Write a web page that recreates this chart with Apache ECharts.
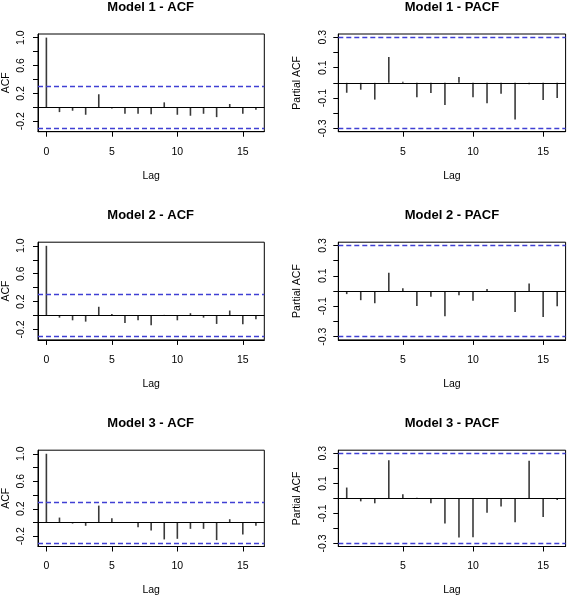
<!DOCTYPE html>
<html>
<head>
<meta charset="utf-8">
<script src="https://cdn.jsdelivr.net/npm/echarts@6/dist/echarts.min.js"></script>
<style>
html,body{margin:0;padding:0;background:#fff;}
#chart{width:567px;height:597px;}
</style>
</head>
<body>
<div id="chart"></div>
<script>
// ---- data ----
const acfLags = [0,1,2,3,4,5,6,7,8,9,10,11,12,13,14,15,16];
const pacfLags = [1,2,3,4,5,6,7,8,9,10,11,12,13,14,15,16];
const acf1 = [1, -0.068, -0.048, -0.106, 0.188, -0.015, -0.092, -0.092, -0.10, 0.072, -0.106, -0.12, -0.092, -0.14, 0.048, -0.092, -0.034];
const pacf1 = [-0.065, -0.045, -0.11, 0.17, 0.007, -0.094, -0.067, -0.145, 0.038, -0.094, -0.134, -0.072, -0.24, -0.01, -0.112, -0.10];
const acf2 = [1, -0.03, -0.068, -0.087, 0.126, 0.024, -0.106, -0.068, -0.14, 0.01, -0.068, 0.034, -0.03, -0.12, 0.072, -0.126, -0.053];
const pacf2 = [-0.02, -0.06, -0.08, 0.12, 0.018, -0.098, -0.038, -0.165, -0.027, -0.064, 0.013, -0.003, -0.138, 0.05, -0.17, -0.10];
const acf3 = [1, 0.072, -0.015, -0.048, 0.246, 0.063, 0.005, -0.068, -0.116, -0.246, -0.237, -0.092, -0.092, -0.256, 0.048, -0.174, -0.048];
const pacf3 = [0.072, -0.02, -0.033, 0.254, 0.028, 0.004, -0.033, -0.167, -0.26, -0.259, -0.096, -0.054, -0.16, 0.25, -0.124, -0.011];
const confLimit = 0.297;
const titles = ["Model 1 - ACF","Model 1 - PACF","Model 2 - ACF","Model 2 - PACF","Model 3 - ACF","Model 3 - PACF"];
const acfYTicks = [-0.2, 0, 0.2, 0.4, 0.6, 0.8, 1.0];
const acfYLabels = [-0.2, 0.2, 0.6, 1.0];
const pacfYTicks = [-0.3, -0.2, -0.1, 0, 0.1, 0.2, 0.3];
const pacfYLabels = [-0.3, -0.1, 0.1, 0.3];
const acfXTicks = [0, 5, 10, 15];
const pacfXTicks = [5, 10, 15];

// ---- layout ----
const panels = [
  {kind:'acf',  lags:acfLags,  vals:acf1},
  {kind:'pacf', lags:pacfLags, vals:pacf1},
  {kind:'acf',  lags:acfLags,  vals:acf2},
  {kind:'pacf', lags:pacfLags, vals:pacf2},
  {kind:'acf',  lags:acfLags,  vals:acf3},
  {kind:'pacf', lags:pacfLags, vals:pacf3}
];
const colLeft = [37, 338.3];
const boxW = 227.3;
const rowTop = [34, 242.2, 450.2];
const boxH = 97.7;
const FONT = "'Liberation Sans', Arial, Helvetica, sans-serif";
const FS = 10.5;

function expand(lo, hi){ const d=(hi-lo)*0.04; return [lo-d, hi+d]; }

const option = {
  animation:false,
  backgroundColor:'#fff',
  title:[], grid:[], xAxis:[], yAxis:[], series:[]
};

panels.forEach((p, i) => {
  const r = Math.floor(i/2), c = i%2;
  const isAcf = p.kind === 'acf';
  option.title.push({
    text: titles[i],
    left: colLeft[c] + boxW/2,
    top: rowTop[r] - 33,
    textAlign: 'center',
    padding: 0,
    textStyle:{fontFamily:FONT, fontSize:13, fontWeight:'bold', color:'#000'}
  });
  option.grid.push({
    left: colLeft[c], top: rowTop[r], width: boxW, height: boxH,
    show:true, borderColor:'#000', borderWidth:1, backgroundColor:'transparent'
  });
  const xr = isAcf ? expand(0,16) : expand(1,16);
  const yr = isAcf ? expand(-confLimit, 1) : expand(-confLimit, confLimit);
  option.xAxis.push({
    type:'value', gridIndex:i, min:xr[0], max:xr[1], position:'bottom',
    axisLine:{show:true, onZero:false, lineStyle:{color:'#000', width:1}},
    axisTick:{show:true, length:5, customValues: isAcf ? acfXTicks : pacfXTicks, lineStyle:{color:'#000'}},
    axisLabel:{show:true, margin:14.5, customValues: isAcf ? acfXTicks : pacfXTicks,
      fontFamily:FONT, fontSize:FS, color:'#000'},
    splitLine:{show:false},
    name:'Lag', nameLocation:'middle', nameGap:38.5,
    nameTextStyle:{fontFamily:FONT, fontSize:FS, color:'#000'}
  });
  option.yAxis.push({
    type:'value', gridIndex:i, min:yr[0], max:yr[1], position:'left',
    axisLine:{show:true, onZero:false, lineStyle:{color:'#000', width:1}},
    axisTick:{show:true, length:5, customValues: isAcf ? acfYTicks : pacfYTicks, lineStyle:{color:'#000'}},
    axisLabel:{show:true, rotate:90, margin: isAcf ? 11 : 9.5,
      customValues: isAcf ? acfYLabels : pacfYLabels,
      formatter: v => (Math.round(v*10)/10).toFixed(1),
      fontFamily:FONT, fontSize:FS, color:'#000'},
    splitLine:{show:false},
    name: isAcf ? 'ACF' : 'Partial ACF', nameLocation:'middle', nameRotate:90,
    nameGap: isAcf ? 26 : 36,
    nameTextStyle:{fontFamily:FONT, fontSize:FS, color:'#000'}
  });
  option.series.push({
    type:'bar', xAxisIndex:i, yAxisIndex:i,
    data: p.lags.map((l, k) => [l, p.vals[k]]),
    barWidth:1.6,
    itemStyle:{color:'#3a3a3a'},
    silent:true,
    markLine:{
      silent:true, symbol:'none', label:{show:false},
      data:[
        {yAxis:0, lineStyle:{color:'#000', type:'solid', width:1}},
        {yAxis:confLimit, lineStyle:{color:'#4040d4', type:[5,3], width:1.3}},
        {yAxis:-confLimit, lineStyle:{color:'#4040d4', type:[5,3], width:1.3}}
      ]
    }
  });
});

const chart = echarts.init(document.getElementById('chart'), null, {renderer:'canvas'});
chart.setOption(option);
</script>
</body>
</html>
